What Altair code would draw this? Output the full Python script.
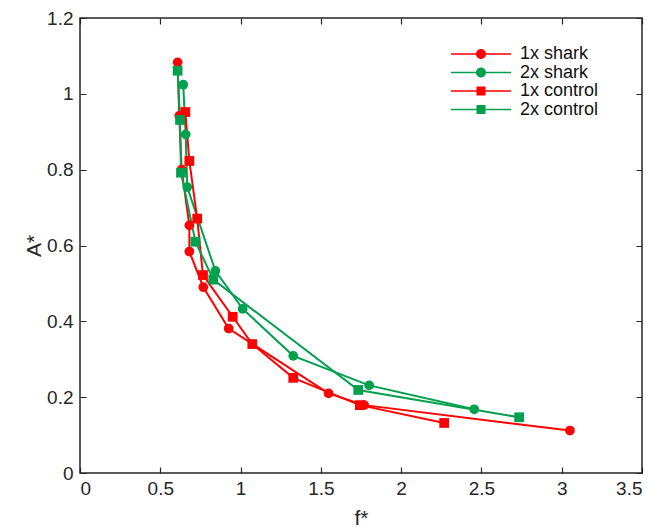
import altair as alt
import pandas as pd

series_names = ["1x shark", "2x shark", "1x control", "2x control"]
series_colors = ["#FF0000", "#00A04E", "#FF0000", "#00A04E"]

f_1x_shark = [0.608, 0.618, 0.633, 0.681, 0.681, 0.768, 0.926, 1.548, 1.770, 3.051]
a_1x_shark = [1.083, 0.942, 0.800, 0.653, 0.584, 0.490, 0.381, 0.210, 0.179, 0.112]

f_2x_shark = [0.643, 0.658, 0.668, 0.843, 1.013, 1.328, 1.801, 2.455]
a_2x_shark = [1.024, 0.893, 0.754, 0.533, 0.433, 0.309, 0.231, 0.168]

f_1x_control = [0.656, 0.681, 0.730, 0.766, 0.951, 1.073, 1.328, 1.743, 2.268]
a_1x_control = [0.952, 0.823, 0.671, 0.522, 0.412, 0.340, 0.251, 0.179, 0.132]

f_2x_control = [0.608, 0.623, 0.629, 0.719, 0.830, 1.733, 2.735]
a_2x_control = [1.061, 0.931, 0.792, 0.610, 0.510, 0.219, 0.147]

x_ticks = [0, 0.5, 1, 1.5, 2, 2.5, 3, 3.5]
y_ticks = [0, 0.2, 0.4, 0.6, 0.8, 1.0, 1.2]

rows = []
for name, fs, As in [
    ("1x shark", f_1x_shark, a_1x_shark),
    ("2x shark", f_2x_shark, a_2x_shark),
    ("1x control", f_1x_control, a_1x_control),
    ("2x control", f_2x_control, a_2x_control),
]:
    for i, (fv, av) in enumerate(zip(fs, As)):
        rows.append({"series": name, "f": fv, "A": av, "order": i})
df = pd.DataFrame(rows)

W, H = 562, 455
TICK = 6
FONT = "Liberation Sans"

x_enc = alt.X(
    "f:Q",
    scale=alt.Scale(domain=[0, 3.5], nice=False, zero=False),
    axis=alt.Axis(
        values=x_ticks, format="~g", title="f*", ticks=False, domain=False,
        grid=True, gridColor="#262626", gridWidth=1.2,
        gridDash=[TICK, H - 2 * TICK, TICK],
        labelFontSize=19, labelPadding=6, titleFontSize=21, titlePadding=9,
        labelFont=FONT, titleFont=FONT, titleFontWeight="normal",
        labelColor="#262626", titleColor="#262626",
    ),
)
y_enc = alt.Y(
    "A:Q",
    scale=alt.Scale(domain=[0, 1.2], nice=False, zero=False),
    axis=alt.Axis(
        values=y_ticks, format="~g", title="A*", ticks=False, domain=False,
        grid=True, gridColor="#262626", gridWidth=1.2,
        gridDash=[TICK, W - 2 * TICK, TICK],
        labelFontSize=19, labelPadding=7, titleFontSize=21, titlePadding=2,
        labelFont=FONT, titleFont=FONT, titleFontWeight="normal",
        labelColor="#262626", titleColor="#262626",
    ),
)

color_scale = alt.Scale(domain=series_names, range=series_colors)

base = alt.Chart(df)

lines = base.mark_line(strokeWidth=2).encode(
    x=x_enc, y=y_enc,
    color=alt.Color("series:N", scale=color_scale, legend=None),
    detail="series:N",
    order="order:Q",
)

points = base.mark_point(filled=True, opacity=1, size=95).encode(
    x="f:Q", y="A:Q",
    color=alt.Color("series:N", scale=color_scale, legend=None),
    shape=alt.Shape(
        "series:N",
        scale=alt.Scale(domain=series_names, range=["circle", "circle", "square", "square"]),
        legend=None,
    ),
)

circle_path = "M-6,-0.15H6V0.15H-6Z M-1,0 A1,1 0 1,1 1,0 A1,1 0 1,1 -1,0Z"
square_path = "M-6,-0.15H6V0.15H-6Z M-0.9,-0.9H0.9V0.9H-0.9Z"

def make_legend():
    return alt.Legend(
        title=None, orient="none", legendX=387, legendY=22,
        labelFontSize=18, labelFont=FONT, labelColor="#111111",
        symbolSize=100, symbolStrokeWidth=0, symbolOpacity=1,
        labelOffset=30, rowPadding=0.5, padding=5,
    )

legend_layer = base.transform_filter("false").mark_point(filled=True).encode(
    x="f:Q", y="A:Q",
    color=alt.Color(
        "series:N",
        scale=alt.Scale(domain=series_names, range=series_colors),
        legend=make_legend(),
    ),
    shape=alt.Shape(
        "series:N",
        scale=alt.Scale(domain=series_names,
                        range=[circle_path, circle_path, square_path, square_path]),
        legend=make_legend(),
    ),
)

chart = (
    alt.layer(lines, points, legend_layer)
    .resolve_scale(color="independent", shape="independent")
    .properties(
        width=W, height=H,
        autosize=alt.AutoSizeParams(type="none"),
        padding={"left": 80, "top": 18, "right": 15, "bottom": 55},
        background="white",
    )
    .configure_view(stroke="#262626", strokeWidth=1.5)
)

chart.save("out.html", embed_options={"renderer": "svg", "actions": False})
